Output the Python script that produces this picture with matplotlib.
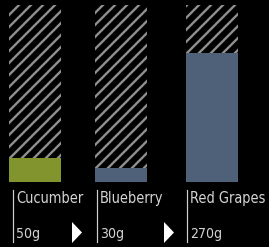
import matplotlib
matplotlib.use('Agg')
import matplotlib.pyplot as plt
from matplotlib.patches import Polygon
from matplotlib.collections import LineCollection
from matplotlib.transforms import IdentityTransform
from matplotlib import font_manager
from matplotlib.font_manager import FontProperties

# data
foods = ['Cucumber', 'Blueberry', 'Red Grapes']
grams = [50, 30, 270]
labels = ['50g', '30g', '270g']
colors = ['#82942e', '#4f6079', '#4f6079']
scale_max = 370  # full hatched column

W, H = 269, 247
DPI = 72


def px(x, y):
    # pixel (from top-left) -> figure fraction
    return x / W, 1 - y / H


def pick_font():
    # prefer a narrow sans, the original uses a condensed face
    files = [f.fname for f in font_manager.fontManager.ttflist]
    for key in ['LiberationSansNarrow-Regular', 'DejaVuSansCondensed.ttf',
                'RobotoCondensed-Regular', 'OpenSans_Condensed-Regular',
                'OpenSansCondensed-Regular']:
        for fn in files:
            if key in fn:
                return FontProperties(fname=fn), True
    return FontProperties(family='Roboto'), False


def createplot():
    fp, narrow = pick_font()

    fig = plt.figure(figsize=(W / DPI, H / DPI), dpi=DPI, facecolor='black')

    # bar area: y from 5 to 182 px
    ax = fig.add_axes([0, (H - 182) / H, 1, 177 / H])
    ax.set_facecolor('black')
    ax.set_xlim(0, W)
    ax.set_ylim(0, scale_max)
    ax.axis('off')

    centers = [34.5, 120.5, 211.5]
    width = 52

    bg = ax.bar(centers, [scale_max] * len(foods), width, color='black',
                linewidth=0, zorder=1)
    ax.bar(centers, grams, width, color=colors, linewidth=0, zorder=3)

    # diagonal stripes, drawn in pixel space and clipped to each column
    step = 12
    segs = [[(c, 0), (c + H, H)] for c in range(-H, W + H, step)]
    for rect in bg:
        lc = LineCollection(segs, colors='#8e8e8e', linewidths=2.4,
                            transform=IdentityTransform(), zorder=2)
        ax.add_collection(lc, autolim=False)
        lc.set_clip_path(rect)  # after add_collection, which resets the clip

    size_name = 14.5 if narrow else 13.5
    size_val = 14 if narrow else 13

    # labels below
    line_x = [13, 97, 187]
    for lx, name, lab in zip(line_x, foods, labels):
        x0, y0 = px(lx, 190)
        x1, y1 = px(lx, 242)
        fig.add_artist(plt.Line2D([x0, x1], [y0, y1], color='#cfcfcf', lw=1.2))
        tx, ty = px(lx + 3, 203)
        fig.text(tx, ty, name, color='#d4d4d4', fontproperties=fp, fontsize=size_name,
                 va='baseline', ha='left')
        tx, ty = px(lx + 3, 238)
        fig.text(tx, ty, lab, color='#d4d4d4', fontproperties=fp, fontsize=size_val,
                 va='baseline', ha='left')

    # arrows between items
    for ax0 in [72, 164]:
        pts = [px(ax0, 222), px(ax0 + 10, 232.5), px(ax0, 243)]
        fig.add_artist(Polygon(pts, closed=True, transform=fig.transFigure,
                               facecolor='white', edgecolor='none'))

    fig.savefig('out.png', dpi=DPI, facecolor='black')


if __name__ == "__main__":
    createplot()
